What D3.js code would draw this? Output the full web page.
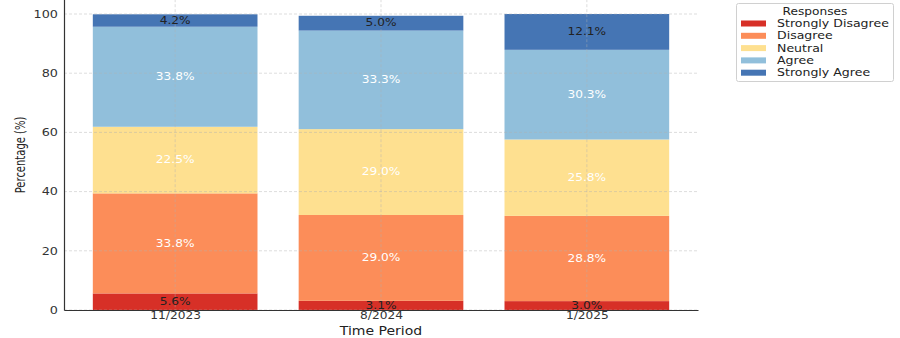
<!DOCTYPE html>
<html>
<head>
<meta charset="utf-8">
<script src="https://cdn.jsdelivr.net/npm/d3@7"></script>
<style>
  html, body { margin: 0; padding: 0; background: #fff; }
  svg { display: block; }
  text { font-family: "DejaVu Sans", sans-serif; }
</style>
</head>
<body>
<svg id="chart" width="900" height="338"></svg>
<script>
// Survey responses per time period (percent of respondents)
const periods = ["11/2023", "8/2024", "1/2025"];
const responses = ["Strongly Disagree", "Disagree", "Neutral", "Agree", "Strongly Agree"];
const stronglyDisagree = [5.6, 3.1, 3.0];
const disagree = [33.8, 29.0, 28.8];
const neutral = [22.5, 29.0, 25.8];
const agree = [33.8, 33.3, 30.3];
const stronglyAgree = [4.2, 5.0, 12.1];
const yTicks = [0, 20, 40, 60, 80, 100];

const seriesValues = [stronglyDisagree, disagree, neutral, agree, stronglyAgree];
const colors = ["#d73027", "#fc8d59", "#fee090", "#91bfdb", "#4575b4"];
const labelColors = ["#222", "#fff", "#fff", "#fff", "#222"];

const svg = d3.select("#chart");
const SX = 1.22; // horizontal glyph stretch used throughout the figure

const left = 64, right = 698, bottom = 310;
const x = d3.scaleLinear().domain([-0.54, 2.54]).range([left, right]);
const y = d3.scaleLinear().domain([0, 105]).range([bottom, bottom - 105 * 2.96]);
const barW = 0.8;

// stack rows: one object per period
const rows = periods.map((p, i) => {
  const r = { period: p, idx: i };
  responses.forEach((k, j) => r[k] = seriesValues[j][i]);
  return r;
});
const stacked = d3.stack().keys(responses)(rows);

// bars
const g = svg.append("g");
stacked.forEach((layer, j) => {
  g.selectAll(null).data(layer).enter().append("rect")
    .attr("x", d => x(d.data.idx - barW / 2))
    .attr("width", d => x(barW) - x(0))
    .attr("y", d => y(d[1]))
    .attr("height", d => y(d[0]) - y(d[1]))
    .attr("fill", colors[j]);
});

// grid (drawn over the bars)
const grid = svg.append("g").attr("stroke", "#b0b0b0").attr("stroke-opacity", 0.55)
  .attr("stroke-dasharray", "3,2").attr("stroke-width", 0.8);
grid.selectAll(null).data(yTicks).enter().append("line")
  .attr("x1", left).attr("x2", right)
  .attr("y1", d => y(d)).attr("y2", d => y(d));
grid.selectAll(null).data(periods.map((p, i) => i)).enter().append("line")
  .attr("x1", d => x(d)).attr("x2", d => x(d))
  .attr("y1", y(105)).attr("y2", bottom);

// value labels
const labels = svg.append("g");
stacked.forEach((layer, j) => {
  labels.selectAll(null).data(layer).enter().append("text")
    .attr("transform", d => `translate(${x(d.data.idx)},${y((d[0] + d[1]) / 2)}) scale(${SX},1)`)
    .attr("text-anchor", "middle").attr("dominant-baseline", "central")
    .attr("font-size", 10).attr("fill", labelColors[j])
    .text(d => d.data[responses[j]].toFixed(1) + "%");
});

// axes
const yAxis = d3.axisLeft(y).tickValues(yTicks).tickSize(0).tickPadding(6);
const ya = svg.append("g").attr("transform", `translate(${left},0)`).call(yAxis);
ya.select(".domain").attr("stroke", "#333").attr("stroke-width", 1.2);
ya.selectAll("text").attr("font-size", 10.5).attr("fill", "#333")
  .attr("font-family", "DejaVu Sans")
  .attr("transform", function () {
    const tx = +d3.select(this).attr("x");
    return `translate(${tx},0) scale(${SX},1) translate(${-tx},0)`;
  });

const xAxis = d3.axisBottom(x).tickValues([0, 1, 2]).tickFormat(i => periods[i]).tickSize(0).tickPadding(2);
const xa = svg.append("g").attr("transform", `translate(0,${bottom})`).call(xAxis);
xa.select(".domain").attr("stroke", "#333").attr("stroke-width", 1.2);
xa.selectAll("text").attr("font-size", 10).attr("fill", "#333")
  .attr("font-family", "DejaVu Sans")
  .attr("transform", `scale(${SX},1)`)
  .attr("x", 0);

// axis titles
svg.append("text")
  .attr("transform", `translate(${(left + right) / 2},335) scale(${SX},1)`)
  .attr("text-anchor", "middle").attr("font-size", 11.5).attr("fill", "#222")
  .text("Time Period");
svg.append("text")
  .attr("transform", `translate(25,155) scale(1.45,1) rotate(-90)`)
  .attr("text-anchor", "middle").attr("font-size", 10).attr("fill", "#222")
  .text("Percentage (%)");

// legend
const lg = svg.append("g");
lg.append("rect").attr("x", 736.5).attr("y", 3.5).attr("width", 157).attr("height", 78)
  .attr("rx", 2).attr("fill", "#fff").attr("stroke", "#d0d0d0");
lg.append("text")
  .attr("transform", `translate(815,15) scale(${SX},1)`)
  .attr("text-anchor", "middle").attr("font-size", 10).attr("fill", "#222")
  .text("Responses");
responses.forEach((r, j) => {
  const cy = 23.5 + j * 12.3;
  lg.append("rect").attr("x", 741).attr("y", cy - 3).attr("width", 25).attr("height", 6).attr("fill", colors[j]);
  lg.append("text")
    .attr("transform", `translate(777,${cy}) scale(${SX},1)`)
    .attr("dominant-baseline", "central").attr("font-size", 10.3).attr("fill", "#222")
    .text(r);
});
</script>
</body>
</html>
